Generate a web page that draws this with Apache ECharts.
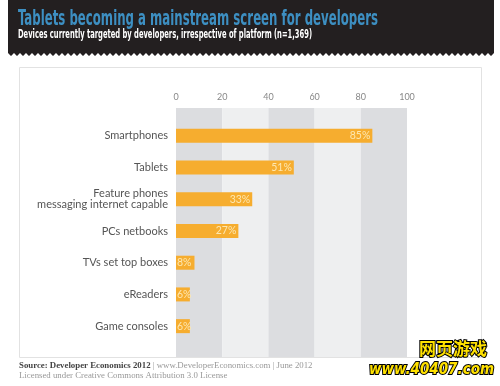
<!DOCTYPE html>
<html><head><meta charset="utf-8">
<script src="https://cdn.jsdelivr.net/npm/echarts@6/dist/echarts.min.js"></script>
<style>html,body{margin:0;padding:0;background:#fff}#c{width:500px;height:386px}</style>
</head><body><div id="c"></div>
<script>
var categories = ['Smartphones','Tablets','Feature phones\nmessaging internet capable','PCs netbooks','TVs set top boxes','eReaders','Game consoles'];
var values = [85, 51, 33, 27, 8, 6, 6];
var tickLabels = [0, 20, 40, 60, 80, 100];

var chart = echarts.init(document.getElementById('c'), null, {renderer:'canvas'});

// zigzag edge for header band (decoration)
var zig = [[8,0],[494,0]];
for (var x = 494; x >= 8; x -= 3) { zig.push([x, (Math.round((494-x)/3) % 2) ? 56 : 53]); }

var condensed = '"DejaVu Sans Condensed","DejaVu Sans",sans-serif';
var serif = '"Liberation Serif","DejaVu Serif",serif';

var titleText = 'Tablets becoming a mainstream screen for developers';
var titleFont = 'bold 21px ' + condensed;
var subText = 'Devices currently targeted by developers, irrespective of platform (n=1,369)';
var subFont = 'bold 11.5px ' + condensed;
var cv = document.createElement('canvas').getContext('2d');
cv.font = titleFont; var tw = cv.measureText(titleText).width;
cv.font = subFont; var sw = cv.measureText(subText).width;

var barData = values.map(function (v) {
  return v < 10
    ? {value: v, label: {position: 'insideLeft', distance: 1}}
    : {value: v};
});

chart.setOption({
  animation: false,
  backgroundColor: '#fff',
  graphic: [
    {type:'polygon', shape:{points: zig}, style:{fill:'#231f20'}, z:0},
    {type:'text', x:18, y:9, scaleX: 360/tw, style:{text:titleText, fill:'#3d8fc2', font:titleFont}},
    {type:'text', x:18, y:29, scaleX: 294/sw, style:{text:subText, fill:'#ffffff', font:subFont}},
    {type:'rect', shape:{x:19.5, y:67.5, width:462, height:290}, style:{fill:'none', stroke:'#e2e2e2', lineWidth:1}, z:-1},
    {type:'text', left:19, top:361, style:{rich:{b:{fill:'#444', fontWeight:'bold', fontFamily:serif, fontSize:8.8}, r:{fill:'#999', fontFamily:serif, fontSize:8.8}}, text:'{b|Source: Developer Economics 2012}{r| | www.DeveloperEconomics.com | June 2012}'}},
    {type:'text', left:19, top:371, style:{text:'Licensed under Creative Commons Attribution 3.0 License', fill:'#999', font:'8.8px '+serif}},
    {type:'text', left:418, top:339, style:{text:'网页游戏', fill:'#ffe100', stroke:'#000', lineWidth:2, font:'bold 17px "Noto Sans CJK SC"'}},
    {type:'text', left:368, top:362, style:{text:'www.40407.com', fill:'#ffe100', stroke:'#000', lineWidth:2, font:'italic bold 15px "DejaVu Sans Condensed"'}}
  ],
  grid: [
    {left:176, right:93, top:108, bottom:29},
    {left:176, right:93, top:120, bottom:44}
  ],
  xAxis: [
    {gridIndex:0, type:'value', min:0, max:100, interval:20, position:'top',
     axisLine:{show:false}, axisTick:{show:false}, splitLine:{show:false},
     splitArea:{show:true, areaStyle:{color:['#dcdde0','#eeeff0']}},
     axisLabel:{color:'#888', fontSize:9, fontFamily:'Lato', margin:6,
       formatter:function(v){ return tickLabels.indexOf(v) >= 0 ? String(v) : ''; }}},
    {gridIndex:1, type:'value', min:0, max:100, interval:20, show:false}
  ],
  yAxis: [
    {gridIndex:0, type:'value', show:false},
    {gridIndex:1, type:'category', data:categories, inverse:true,
     axisLine:{show:false}, axisTick:{show:false},
     axisLabel:{color:'#555', fontSize:11, fontFamily:'Lato', margin:8, lineHeight:11, align:'right'}}
  ],
  series: [{
    type:'bar', xAxisIndex:1, yAxisIndex:1, data:barData, barWidth:14,
    itemStyle:{color:'#f6ad2f'},
    label:{show:true, position:'insideRight', distance:2, color:'#fde7b0', fontSize:10.5, fontFamily:'Lato',
      formatter:function(p){return p.value + '%';}}
  }]
});
</script></body></html>
